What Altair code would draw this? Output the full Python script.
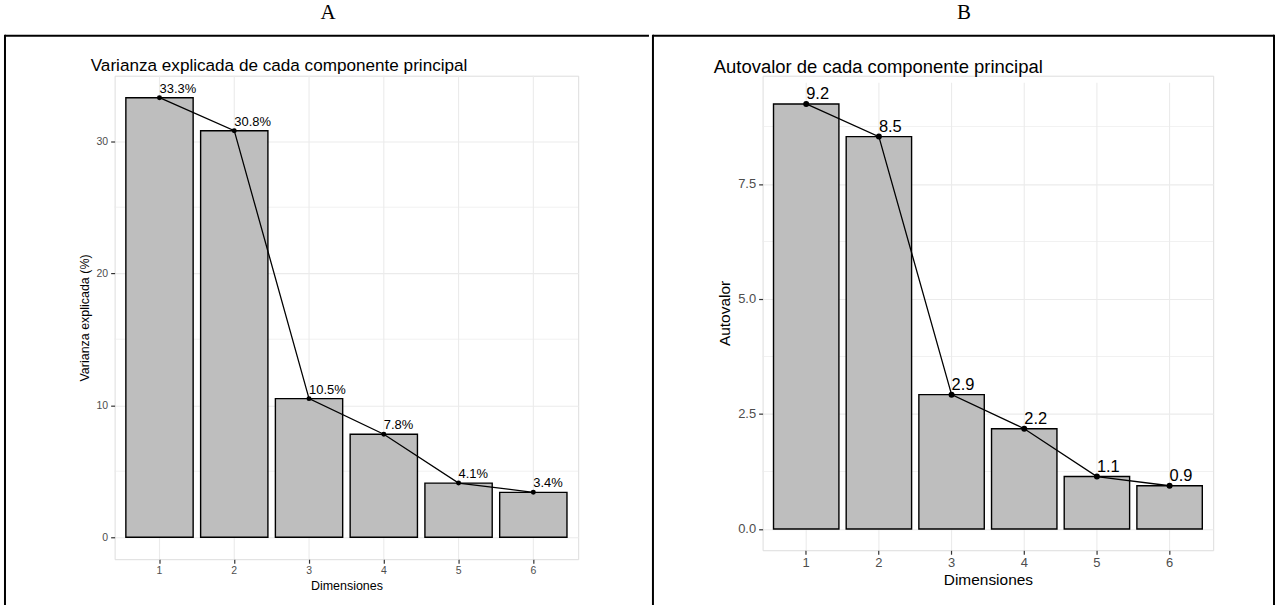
import altair as alt
import pandas as pd

# ---- data ----
dims = ["1", "2", "3", "4", "5", "6"]
var_pct = [33.3, 30.8, 10.5, 7.8, 4.1, 3.4]
var_labels = ["33.3%", "30.8%", "10.5%", "7.8%", "4.1%", "3.4%"]
eigen = [9.24, 8.53, 2.92, 2.18, 1.14, 0.94]
eigen_labels = ["9.2", "8.5", "2.9", "2.2", "1.1", "0.9"]

var_ticks = [0, 10, 20, 30]
var_minor = [5, 15, 25]
eig_ticks = [0.0, 2.5, 5.0, 7.5]
eig_minor = [1.25, 3.75, 6.25, 8.75]

SANS = "Liberation Sans"
SERIF = "Liberation Serif"
GRID = "#EBEBEB"


def panel(values, labels, ticks, minor, fmt, letter, title, ytitle, W, H, top_pad,
          right_line, top_end, letter_x, title_xy, sizes, pt_size):
    df = pd.DataFrame({"dim": dims, "val": values, "lab": labels})
    vmax = max(values)
    s = (H - top_pad) / (1.1 * vmax)
    dom = [-0.05 * vmax, 1.05 * vmax + top_pad / s]
    xs = alt.Scale(domain=dims, paddingInner=0.1, paddingOuter=0.15)
    ys = alt.Scale(domain=dom, nice=False, zero=False)
    tick_fs, lab_fs, axt_fs, title_fs, tpx, tpy = sizes

    xaxis = alt.Axis(title="Dimensiones", labelAngle=0, domain=False, grid=False,
                     ticks=True, tickColor="#333333", tickSize=4, tickWidth=1.2,
                     labelColor="#4D4D4D", labelFont=SANS, labelFontSize=tick_fs,
                     labelPadding=2, titleFont=SANS, titleFontSize=axt_fs,
                     titleFontWeight="normal", titleColor="black", titlePadding=tpx)
    yaxis = alt.Axis(title=ytitle, values=ticks, format=fmt, domain=False, grid=True,
                     gridColor=GRID, gridWidth=1.1, ticks=True, tickColor="#333333",
                     tickSize=4, tickWidth=1.2, labelColor="#4D4D4D", labelFont=SANS,
                     labelFontSize=tick_fs, labelPadding=3, titleFont=SANS,
                     titleFontSize=axt_fs, titleFontWeight="normal",
                     titleColor="black", titlePadding=tpy)
    X = alt.X("dim:O", scale=xs, sort=dims, axis=xaxis)
    Y = alt.Y("val:Q", scale=ys, axis=yaxis)

    one = pd.DataFrame({"k": [0]})
    top = -40
    bottom = 531
    lines = []
    # top border line
    lines.append(alt.Chart(one).mark_rule(color="black", strokeWidth=2).encode(
        x=alt.value(-110), x2=alt.value(top_end), y=alt.value(top)))
    # left border line
    lines.append(alt.Chart(one).mark_rule(color="black", strokeWidth=2).encode(
        x=alt.value(-110), y=alt.value(top - 1), y2=alt.value(bottom)))
    if right_line:
        lines.append(alt.Chart(one).mark_rule(color="black", strokeWidth=2).encode(
            x=alt.value(right_line), y=alt.value(top - 1), y2=alt.value(bottom)))
    letter_t = alt.Chart(one).mark_text(font=SERIF, fontSize=21, align="center",
                                         baseline="middle", color="black").encode(
        x=alt.value(letter_x), y=alt.value(-63), text=alt.value(letter))
    title_t = alt.Chart(one).mark_text(font=SANS, fontSize=title_fs, align="left",
                                        baseline="alphabetic", color="black").encode(
        x=alt.value(title_xy[0]), y=alt.value(title_xy[1]), text=alt.value(title))

    hgrid = alt.Chart(pd.DataFrame({"val": minor})).mark_rule(
        color=GRID, strokeWidth=0.7).encode(y=Y, x=alt.value(0), x2=alt.value(W))
    vgrid = alt.Chart(df).mark_rule(color=GRID, strokeWidth=1.1).encode(
        x=X, y=alt.value(top_pad), y2=alt.value(H))

    base = alt.Chart(df)
    bars = base.mark_bar(fill="#BEBEBE", stroke="black", strokeWidth=1.4).encode(
        x=X, y=Y, y2=alt.datum(0))
    line = base.mark_line(color="black", strokeWidth=1.3).encode(x=X, y=Y)
    pts = base.mark_point(filled=True, color="black", opacity=1, size=pt_size).encode(x=X, y=Y)
    txt = base.mark_text(font=SANS, fontSize=lab_fs, align="left", baseline="bottom",
                         dx=0, dy=-2, color="black").encode(x=X, y=Y, text="lab:N")

    return alt.layer(*lines, letter_t, title_t, hgrid, vgrid, bars, line, pts, txt).properties(
        width=W, height=H)


# panel A: plot area at (114,75) size 465x485
pA = panel(var_pct, var_labels, var_ticks, var_minor, "d", "A",
           "Varianza explicada de cada componente principal", "Varianza explicada (%)",
           465, 485, 0, None, 536, 214, (-24, -5), (10.5, 13, 12.5, 17.2, 4, 5), 25)
# panel B: plot area at (763,82) size 452x469 (top aligned with A, scale shifted)
pB = panel(eigen, eigen_labels, eig_ticks, eig_minor, ".1f", "B",
           "Autovalor de cada componente principal", "Autovalor",
           452, 476, 7, 513, 513, 202, (-49, -3), (13, 16.5, 15.5, 18.5, 3, 5), 36)

chart = alt.hconcat(pA, pB, spacing=0).properties(
    padding={"left": 3, "top": 0, "right": 0, "bottom": 0}
).configure_view(strokeWidth=0).configure(background="white")

chart.save("out.html", embed_options={"renderer": "svg", "actions": False})
